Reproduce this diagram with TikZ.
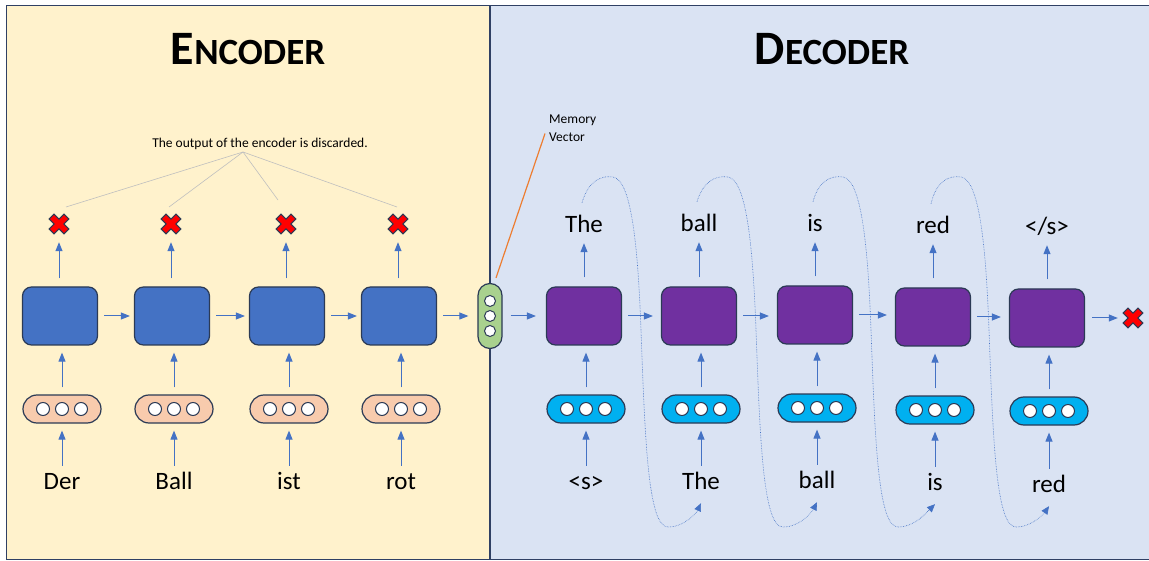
\documentclass[tikz,border=0pt]{standalone}
\usepackage{fontspec}
\setmainfont{Carlito}
\usetikzlibrary{arrows.meta,calc}

\definecolor{encbg}{HTML}{FFF2CC}
\definecolor{decbg}{HTML}{DAE3F3}
\definecolor{frame}{HTML}{2F4064}
\definecolor{edge}{HTML}{2B3A55}
\definecolor{arrowblue}{HTML}{4472C4}
\definecolor{encblue}{HTML}{4472C4}
\definecolor{decpurple}{HTML}{7030A0}
\definecolor{peach}{HTML}{F8CBAD}
\definecolor{cyanfill}{HTML}{00B0F0}
\definecolor{mvgreen}{HTML}{A9D18E}
\definecolor{fangray}{HTML}{BFBFBF}
\definecolor{memorange}{HTML}{ED7D31}
\definecolor{xred}{HTML}{FF0000}

\begin{document}
\begin{tikzpicture}[x=1pt,y=-1pt,
  arr/.style={draw=arrowblue, line width=1pt, -{Triangle[length=9pt,width=7pt]}},
  fb/.style={draw=arrowblue, line width=0.6pt, densely dotted, -{Triangle[length=8pt,width=7pt]}},
  cell/.style={draw=edge, line width=1.2pt, rounded corners=9pt, minimum width=75pt, minimum height=58pt, inner sep=0pt},
  encbox/.style={cell, fill=encblue},
  decbox/.style={cell, fill=decpurple},
  pill/.style={draw=edge, line width=1.2pt, rounded corners=14pt, minimum width=78pt, minimum height=28pt, inner sep=0pt},
  dot/.style={circle, draw=edge, fill=white, line width=1pt, minimum size=13pt, inner sep=0pt},
  word/.style={font=\fontsize{25}{30}\selectfont, inner sep=0pt, text height=18pt, text depth=5pt, anchor=base},
  xmark/.style={minimum size=20pt, inner sep=0pt},
  title/.style={font=\bfseries\fontsize{48}{54}\selectfont, anchor=base, inner sep=0pt},
  small/.style={font=\fontsize{13.5}{18}\selectfont, inner sep=0pt}
]
\useasboundingbox (0,0) rectangle (1149,561);

% panels
\fill[encbg] (6.5,5.5) rectangle (490,559.5);
\fill[decbg] (490,5.5) rectangle (1150,559.5);
\draw[frame, line width=1.5pt] (1150,5.5) -- (6.5,5.5) -- (6.5,559.5) -- (1150,559.5);
\draw[frame, line width=1.5pt] (490,5.5) -- (490,559.5);

% titles
\node[title] (enctitle) at (248,65) {E\fontsize{37}{42}\selectfont NCODER};
\node[title] (dectitle) at (832,65) {D\fontsize{37}{42}\selectfont ECODER};

% red cross mark drawn on a named node
\newcommand\redcross[1]{%
  \begin{scope}[shift={(#1)}, rotate=45]
    \filldraw[fill=xred, draw=edge, line width=1pt]
      (-3.4,-10.5) -- (3.4,-10.5) -- (3.4,-3.4) -- (10.5,-3.4) -- (10.5,3.4) -- (3.4,3.4)
      -- (3.4,10.5) -- (-3.4,10.5) -- (-3.4,3.4) -- (-10.5,3.4) -- (-10.5,-3.4) -- (-3.4,-3.4) -- cycle;
  \end{scope}}

% ---------------- encoder ----------------
\node[small, anchor=base] (disc) at (260,148) {The output of the encoder is discarded.};
\coordinate (fan) at (243,152);

\foreach \i/\x/\w/\fx/\fy in {1/60/Der/7/-17, 2/172/Ball/-2/-17, 3/287/ist/-8/-24, 4/399/rot/-1/-17} {
  \node[encbox] (e\i) at (\x,316) {};
  \node[pill, fill=peach] (ei\i) at (\x+2,409) {};
  \foreach \d in {-19,0,19} \node[dot] at ($(ei\i)+(\d,0)$) {};
  \node[word] (ew\i) at (\x+2,489) {\w};
  \node[xmark] (ex\i) at (\x-1,224) {};
  \redcross{ex\i}
  \draw[arr, shorten <=5pt, shorten >=7pt] (ew\i.north) -- (ei\i.south);
  \draw[arr, shorten <=7pt, shorten >=7pt] (ei\i.north) -- (ei\i.north |- e\i.south);
  \draw[arr, shorten <=8pt, shorten >=8pt] (ex\i.south |- e\i.north) -- (ex\i.south);
  \draw[fangray, line width=0.6pt] (fan) -- ($(ex\i)+(\fx,\fy)$);
}
\foreach \a/\b in {1/2, 2/3, 3/4}
  \draw[arr, shorten <=6pt, shorten >=4pt] (e\a.east) -- (e\b.west);

% memory vector
\node[draw=edge, fill=mvgreen, line width=1.2pt, rounded corners=12pt,
      minimum width=24pt, minimum height=65pt, inner sep=0pt] (mv) at (490,316) {};
\foreach \d in {-15,0,15} \node[dot, minimum size=11pt] at ($(mv)+(0,\d)$) {};
\draw[arr, shorten <=6pt, shorten >=9pt] (e4.east) -- (mv.west);
\node[small, align=left, anchor=north west] (mvl) at (549,115) {Memory\\Vector};
\draw[memorange, line width=1.2pt] ($(mv.north)+(6,-5)$) -- ($(mvl.west)+(-4,5)$);

% ---------------- decoder ----------------
\foreach \i/\x/\y/\ey/\t/\tb/\b/\bb in {
    1/584/316/409/The/233/{<s>}/489,
    2/699/316/409/ball/232/The/489,
    3/815/315/408/is/232/ball/488,
    4/933/317/410/red/234/is/490,
    5/1047/318/411/{</s>}/235/red/492} {
  \node[decbox] (d\i) at (\x,\y) {};
  \node[pill, fill=cyanfill] (di\i) at (\x+2,\ey) {};
  \foreach \d in {-19,0,19} \node[dot] at ($(di\i)+(\d,0)$) {};
  \node[word] (tw\i) at (\x,\tb) {\t};
  \node[word] (bw\i) at (\x+2,\bb) {\b};
  \draw[arr, shorten <=5pt, shorten >=7pt] (bw\i.north) -- (di\i.south);
  \draw[arr, shorten <=7pt, shorten >=7pt] (di\i.north) -- (di\i.north |- d\i.south);
  \draw[arr, shorten <=9pt, shorten >=5pt] (tw\i.south |- d\i.north) -- (tw\i.south);
}
\draw[arr, shorten <=8pt, shorten >=10pt] (mv.east) -- (d1.west |- mv.east);
\foreach \a/\b in {1/2, 2/3, 3/4, 4/5}
  \draw[arr, shorten <=6pt, shorten >=8pt] (d\a.east) -- (d\b.west |- d\a.east);

\node[xmark] (dx) at (1133,318) {};
\redcross{dx}
\draw[arr, shorten <=7pt, shorten >=5pt] (d5.east) -- (dx.west);

% each generated word is fed back as the next input
\foreach \i/\j/\x in {1/2/582, 2/3/697, 3/4/812, 4/5/930} {
  \draw[fb] ($(tw\i.north)+(-2,-12)$)
    .. controls ({\x+6},182) and ({\x+18},175) .. ({\x+31},177)
    .. controls ({\x+50},180) and ({\x+56},250) .. ({\x+59},330)
    .. controls ({\x+63},440) and ({\x+66},527) .. ({\x+86},527)
    .. controls ({\x+103},527) and ({\x+115},512) .. ($(bw\j.south)+(0,9)$);
}
\end{tikzpicture}
\end{document}
